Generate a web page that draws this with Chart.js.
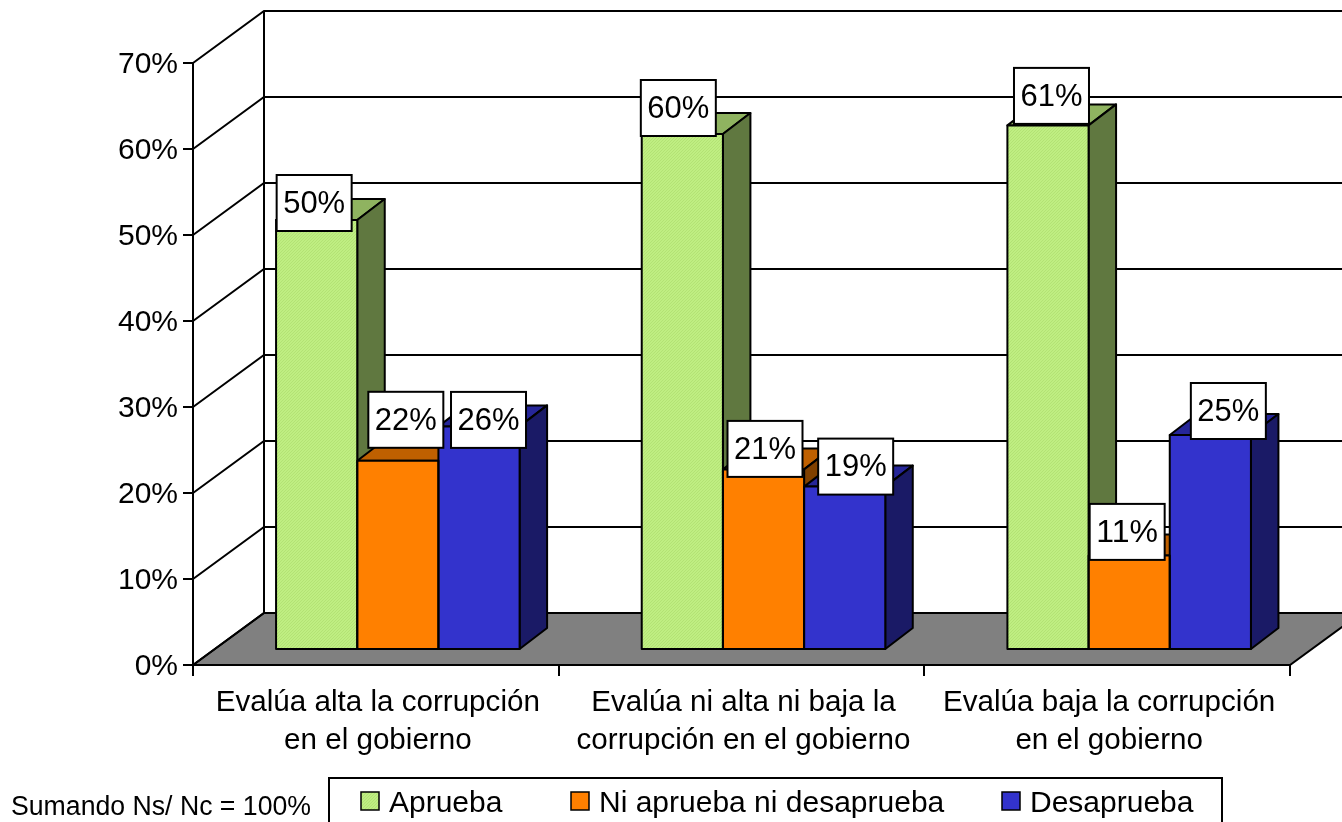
<!DOCTYPE html>
<html>
<head>
<meta charset="utf-8">
<title>Corrupción y aprobación</title>
<script src="https://cdn.jsdelivr.net/npm/chart.js@4"></script>
<style>
	body{margin:0;background:#fff}
	canvas{display:block}
</style>
</head>
<body>
<canvas id="mi-grafico" width="1342" height="822"></canvas>
<script>
const categorias = [
	["Evalúa alta la corrupción","en el gobierno"],
	["Evalúa ni alta ni baja la","corrupción en el gobierno"],
	["Evalúa baja la corrupción","en el gobierno"]
]
const nombres = ["Aprueba","Ni aprueba ni desaprueba","Desaprueba"]
const aprueba = [50,60,61]
const niAprueba = [22,21,11]
const desaprueba = [26,19,25]
const marcasEjeY = [0,10,20,30,40,50,60,70]

// corrimiento de cada etiqueta respecto al tope de su barra
const corrimientoEtiquetas = [
	[[-2.5,-17],[-4,-26],[3.5,-29.5]],
	[[8,-41],[1.5,-20.5],[-2,-23.5]],
	[[9.5,-6.5],[11,-20],[18,-24]]
]

const FUENTE = '"Liberation Sans", Arial, sans-serif'
const FONDO = {x:71, y:-52}
const BARRA = {x:22, y:-15, px:27.5, py:-21}
const caras = [
	{tope:"#8FB360", lado:"#607840"},
	{tope:"#BF6000", lado:"#804000"},
	{tope:"#262699", lado:"#1A1A66"}
]

function tramaVerde(){
	var c = document.createElement("canvas")
	c.width = 3
	c.height = 3
	var g = c.getContext("2d")
	g.fillStyle = "#BFEE82"
	g.fillRect(0,0,3,3)
	g.fillStyle = "#B3E274"
	g.fillRect(0,0,1,1)
	g.fillRect(2,1,1,1)
	g.fillRect(1,2,1,1)
	return g.createPattern(c,"repeat")
}
const verde = tramaVerde()
const colores = [verde,"#FF8000","#3333CC"]

function poligono(ctx,puntos,relleno){
	ctx.beginPath()
	puntos.forEach((p,i) => i == 0 ? ctx.moveTo(p[0],p[1]) : ctx.lineTo(p[0],p[1]))
	ctx.closePath()
	if(relleno){
		ctx.fillStyle = relleno
		ctx.fill()
	}
	ctx.stroke()
}

const paredes = {
	id: "paredes",
	beforeDraw(chart){
		const ctx = chart.ctx
		const a = chart.chartArea
		const y = chart.scales.y
		ctx.save()
		ctx.strokeStyle = "#000"
		ctx.lineWidth = 2
		// piso
		poligono(ctx,[[a.left,a.bottom],[a.left+FONDO.x,a.bottom+FONDO.y],[a.right+FONDO.x,a.bottom+FONDO.y],[a.right,a.bottom]],"#808080")
		// lineas de la pared lateral y del fondo
		marcasEjeY.forEach(v => {
			const py = y.getPixelForValue(v)
			ctx.beginPath()
			ctx.moveTo(a.left,py)
			ctx.lineTo(a.left+FONDO.x,py+FONDO.y)
			ctx.lineTo(a.right+FONDO.x,py+FONDO.y)
			ctx.stroke()
		})
		ctx.beginPath()
		ctx.moveTo(a.left+FONDO.x,a.top+FONDO.y)
		ctx.lineTo(a.left+FONDO.x,a.bottom+FONDO.y)
		ctx.stroke()
		ctx.restore()
	}
}

const barras3d = {
	id: "barras3d",
	beforeDatasetsDraw(chart){
		const ctx = chart.ctx
		ctx.save()
		ctx.translate(BARRA.x,BARRA.y)
		ctx.strokeStyle = "#000"
		ctx.lineWidth = 2
		ctx.lineJoin = "round"
		categorias.forEach((c,j) => {
			nombres.forEach((n,i) => {
				const b = chart.getDatasetMeta(i).data[j]
				const izq = b.x-b.width/2
				const der = b.x+b.width/2
				poligono(ctx,[[izq,b.y],[izq+BARRA.px,b.y+BARRA.py],[der+BARRA.px,b.y+BARRA.py],[der,b.y]],caras[i].tope)
				poligono(ctx,[[der,b.y],[der+BARRA.px,b.y+BARRA.py],[der+BARRA.px,b.base+BARRA.py],[der,b.base]],caras[i].lado)
			})
		})
	},
	afterDatasetsDraw(chart){
		const ctx = chart.ctx
		// contorno de la cara frontal
		chart.data.datasets.forEach((d,i) => {
			chart.getDatasetMeta(i).data.forEach(b => {
				ctx.strokeRect(b.x-b.width/2,b.y,b.width,b.base-b.y)
			})
		})
		ctx.restore()
		ctx.save()
		ctx.font = "32px "+FUENTE
		ctx.textAlign = "center"
		ctx.textBaseline = "middle"
		chart.data.datasets.forEach((d,i) => {
			chart.getDatasetMeta(i).data.forEach((b,j) => {
				const cx = b.x+BARRA.x+corrimientoEtiquetas[i][j][0]
				const cy = b.y+BARRA.y+corrimientoEtiquetas[i][j][1]
				ctx.fillStyle = "#fff"
				ctx.strokeStyle = "#000"
				ctx.lineWidth = 2
				ctx.fillRect(cx-37.5,cy-28,75,56)
				ctx.strokeRect(cx-37.5,cy-28,75,56)
				ctx.fillStyle = "#000"
				ctx.fillText(d.data[j]+"%",cx,cy+1,62)
			})
		})
		ctx.restore()
	}
}

const leyenda = {
	id: "leyenda",
	afterDraw(chart){
		const ctx = chart.ctx
		const muestras = [361,571,1002]
		ctx.save()
		ctx.strokeStyle = "#000"
		ctx.lineWidth = 2
		ctx.beginPath()
		ctx.moveTo(329,822)
		ctx.lineTo(329,778)
		ctx.lineTo(1222,778)
		ctx.lineTo(1222,822)
		ctx.stroke()
		ctx.textBaseline = "alphabetic"
		nombres.forEach((n,i) => {
			ctx.fillStyle = colores[i]
			ctx.fillRect(muestras[i],792,18,18)
			ctx.lineWidth = 1.5
			ctx.strokeRect(muestras[i],792,18,18)
			ctx.fillStyle = "#000"
			ctx.font = "30px "+FUENTE
			ctx.fillText(n,muestras[i]+28,812)
		})
		ctx.font = "27px "+FUENTE
		ctx.fillText("Sumando Ns/ Nc = 100%",11,815,300)
		ctx.restore()
	}
}

new Chart("mi-grafico",{
	type: "bar",
	data: {
		labels: categorias,
		datasets: [aprueba,niAprueba,desaprueba].map((valores,i) => ({
			label: nombres[i],
			data: valores,
			backgroundColor: colores[i],
			borderWidth: 0,
			clip: false,
			categoryPercentage: 0.666,
			barPercentage: 1
		}))
	},
	options: {
		responsive: false,
		animation: false,
		layout: {padding: {left:0, top:63, right:52, bottom:0}},
		plugins: {
			legend: {display: false},
			tooltip: {enabled: false}
		},
		scales: {
			x: {
				afterFit(escala){ escala.height = 157 },
				border: {color:"#000", width:2},
				grid: {drawOnChartArea:false, color:"#000", lineWidth:2, tickLength:11},
				ticks: {
					color: "#000",
					autoSkip: false,
					maxRotation: 0,
					labelOffset: 2,
					padding: 8,
					font: {family:FUENTE, size:29.6, lineHeight:1.28}
				}
			},
			y: {
				min: 0,
				max: 70,
				afterFit(escala){ escala.width = 193 },
				border: {color:"#000", width:2},
				grid: {drawOnChartArea:false, color:"#000", lineWidth:2, tickLength:10},
				ticks: {
					color: "#000",
					stepSize: 10,
					padding: 5,
					labelOffset: 1.5,
					font: {family:FUENTE, size:30},
					callback: v => v+"%"
				}
			}
		}
	},
	plugins: [paredes,barras3d,leyenda]
})
</script>
</body>
</html>
